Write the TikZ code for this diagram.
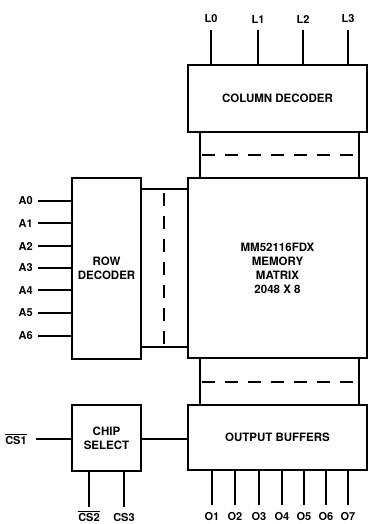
\documentclass[tikz,border=0pt]{standalone}
\usepackage{fontspec}
\setmainfont{TeX Gyre Heros}
\begin{document}
\begin{tikzpicture}[x=1pt,y=-1pt,
  blk/.style={draw,line width=2.5pt,inner sep=0pt,font=\bfseries\fontsize{11.5}{14}\selectfont,align=center},
  wire/.style={line width=2.5pt},
  busdash/.style={line width=2.6pt,dash pattern=on 13pt off 10pt},
  lbl/.style={font=\bfseries\fontsize{11}{12}\selectfont,inner sep=0pt}]
\useasboundingbox (0,0) rectangle (369,524);
% blocks
\node[blk,minimum width=179pt,minimum height=67pt] (coldec) at (277.5,98.5) {COLUMN DECODER};
\node[blk,minimum width=179pt,minimum height=180pt] (matrix) at (277.5,268) {MM52116FDX\\MEMORY\\MATRIX\\2048 X 8};
\node[blk,minimum width=69pt,minimum height=181pt] (rowdec) at (106.5,268.5) {ROW\\DECODER};
\node[blk,minimum width=69pt,minimum height=66pt] (chipsel) at (106.5,438) {CHIP\\SELECT};
\node[blk,minimum width=179pt,minimum height=65pt] (outbuf) at (277.5,437.5) {OUTPUT BUFFERS};
% buses
\coordinate (cbL) at (200,0); \coordinate (cbR) at (359,0);
\draw[wire] (coldec.south -| cbL) -- (matrix.north -| cbL);
\draw[wire] (coldec.south -| cbR) -- (matrix.north -| cbR);
\draw[busdash] (202,155) -- (355,155);
\draw[wire] (outbuf.north -| cbL) -- (matrix.south -| cbL);
\draw[wire] (outbuf.north -| cbR) -- (matrix.south -| cbR);
\draw[busdash] (202,382) -- (355,382);
\coordinate (rbT) at (0,189); \coordinate (rbB) at (0,347);
\draw[wire] (rowdec.east |- rbT) -- (matrix.west |- rbT);
\draw[wire] (rowdec.east |- rbB) -- (matrix.west |- rbB);
\draw[busdash] (164,193) -- (164,345);
% chip select to output buffers
\draw[wire] (chipsel.east |- 0,439) -- (outbuf.west |- 0,439);
% column inputs
\foreach \n/\x in {0/211,1/258,2/303,3/348}{
  \coordinate (lend\n) at (\x,30);
  \node[lbl] (lname\n) at (\x,19) {L\n};
  \draw[wire] (lend\n) -- (coldec.north -| lend\n);
}
% row inputs
\foreach \n/\y in {0/201,1/223,2/246,3/268,4/290,5/313,6/336}{
  \coordinate (aend\n) at (38,\y);
  \node[lbl,anchor=east] (aname\n) at (33,\y) {A\n};
  \draw[wire] (aend\n) -- (rowdec.west |- aend\n);
}
% outputs
\foreach \n/\x in {1/212,2/235,3/259,4/282,5/304,6/326,7/348}{
  \coordinate (oend\n) at (\x,505);
  \node[lbl] (oname\n) at (\x,516) {O\n};
  \draw[wire] (outbuf.south -| oend\n) -- (oend\n);
}
% chip select inputs
\coordinate (cs1end) at (36,439);
\node[lbl] (cs1name) at (16,439) {$\overline{\mbox{CS1}}$};
\draw[wire] (cs1end) -- (chipsel.west |- cs1end);
\coordinate (cs2end) at (89,507);
\coordinate (cs3end) at (124,507);
\node[lbl] (cs2name) at (89,516) {$\overline{\mbox{CS2}}$};
\node[lbl] (cs3name) at (124,517) {CS3};
\draw[wire] (chipsel.south -| cs2end) -- (cs2end);
\draw[wire] (chipsel.south -| cs3end) -- (cs3end);
\end{tikzpicture}
\end{document}
